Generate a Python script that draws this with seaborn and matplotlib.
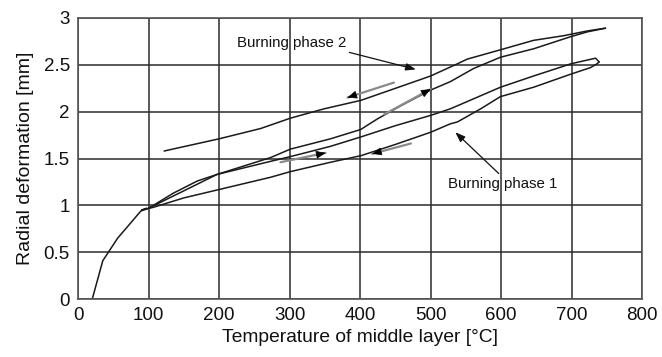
import numpy as np
import pandas as pd
import matplotlib
matplotlib.use("Agg")
import matplotlib.pyplot as plt
import seaborn as sns

# Initial heating (phase 1 start)
init_T = [20, 35, 56, 89, 100]
init_d = [0.0, 0.41, 0.65, 0.94, 0.97]

# Burning phase 1 heating
p1h_T = [100, 135, 169, 197, 273, 301, 358, 401, 450, 500, 528, 599, 646, 699, 734, 739]
p1h_d = [0.97, 1.13, 1.26, 1.33, 1.47, 1.52, 1.63, 1.73, 1.85, 1.96, 2.03, 2.26, 2.38, 2.51, 2.57, 2.53]

# Burning phase 1 cooling
p1c_T = [739, 736, 727, 699, 646, 599, 571, 538, 528, 500, 450, 401, 358, 301, 273, 150, 107, 90, 97]
p1c_d = [2.53, 2.51, 2.47, 2.40, 2.26, 2.16, 2.03, 1.89, 1.87, 1.78, 1.65, 1.53, 1.46, 1.36, 1.30, 1.08, 0.98, 0.95, 0.97]

# Burning phase 2 heating
p2h_T = [100, 197, 273, 301, 358, 401, 424, 457, 500, 528, 561, 599, 646, 699, 722, 748]
p2h_d = [0.97, 1.33, 1.51, 1.60, 1.71, 1.81, 1.92, 2.06, 2.23, 2.32, 2.46, 2.58, 2.67, 2.80, 2.85, 2.89]

# Burning phase 2 cooling
p2c_T = [748, 722, 689, 646, 604, 552, 538, 500, 443, 401, 349, 301, 259, 200, 122]
p2c_d = [2.89, 2.86, 2.81, 2.76, 2.67, 2.56, 2.51, 2.38, 2.23, 2.12, 2.03, 1.93, 1.82, 1.71, 1.58]

x_ticks = [0, 100, 200, 300, 400, 500, 600, 700, 800]
y_ticks = [0, 0.5, 1, 1.5, 2, 2.5, 3]
y_tick_labels = ["0", "0.5", "1", "1.5", "2", "2.5", "3"]

# Direction arrows (start -> end)
dir_arrows = [
    ((448, 2.31), (382, 2.15)),
    ((434, 1.97), (500, 2.24)),
    ((287, 1.46), (351, 1.56)),
    ((472, 1.66), (417, 1.55)),
]

sns.set_theme(style="white")
plt.rcParams['font.family'] = ['Liberation Sans', 'DejaVu Sans']

frames = []
for name, T, d in [("init", init_T, init_d), ("p1h", p1h_T, p1h_d), ("p1c", p1c_T, p1c_d),
                   ("p2h", p2h_T, p2h_d), ("p2c", p2c_T, p2c_d)]:
    frames.append(pd.DataFrame({"T": T, "d": d, "curve": name, "order": range(len(T))}))
df = pd.concat(frames, ignore_index=True)

fig = plt.figure(figsize=(6.62, 3.57), dpi=100)
ax = fig.add_axes([0.118, 0.162, 0.852, 0.788])

sns.lineplot(data=df, x="T", y="d", units="curve", estimator=None, sort=False,
             color="#1a1a1a", linewidth=1.1, ax=ax, legend=False)

ax.set_xlim(0, 800)
ax.set_ylim(0, 3)
ax.set_xticks(x_ticks)
ax.set_yticks(y_ticks)
ax.set_yticklabels(y_tick_labels)
ax.grid(True, color="#2b2b2b", linewidth=1.1)
ax.set_axisbelow(True)
for s in ax.spines.values():
    s.set_color("#555555")
    s.set_linewidth(1.2)
ax.tick_params(axis="both", length=0, labelsize=13.5, colors="#111111", pad=6)
ax.set_xlabel("Temperature of middle layer [°C]", fontsize=13.9, color="#111111", labelpad=3)
ax.set_ylabel("Radial deformation [mm]", fontsize=14.0, color="#111111", labelpad=7)

for (s, e) in dir_arrows:
    ax.annotate("", xy=e, xytext=s,
                arrowprops=dict(arrowstyle="-", color="#8a8a8a", lw=1.6,
                                shrinkA=0, shrinkB=0))
    ax.annotate("", xy=e, xytext=(e[0] - (e[0] - s[0]) * 0.15, e[1] - (e[1] - s[1]) * 0.15),
                arrowprops=dict(arrowstyle="-|>,head_length=0.6,head_width=0.25",
                                color="black", lw=0.5, shrinkA=0, shrinkB=0,
                                mutation_scale=10))

ax.annotate("Burning phase 2", xy=(479, 2.45), xytext=(225, 2.73),
            fontsize=10.8, color="#111111", va="center", ha="left",
            arrowprops=dict(arrowstyle="-|>,head_length=0.6,head_width=0.22", color="#111111",
                            lw=0.9, shrinkA=0, shrinkB=0, relpos=(0.95, 0.0), mutation_scale=10))
ax.annotate("Burning phase 1", xy=(535, 1.78), xytext=(524, 1.23),
            fontsize=10.8, color="#111111", va="center", ha="left",
            arrowprops=dict(arrowstyle="-|>,head_length=0.6,head_width=0.22", color="#111111",
                            lw=0.9, shrinkA=0, shrinkB=0, relpos=(0.5, 1.0), mutation_scale=10))

fig.savefig("out.png", dpi=100)
